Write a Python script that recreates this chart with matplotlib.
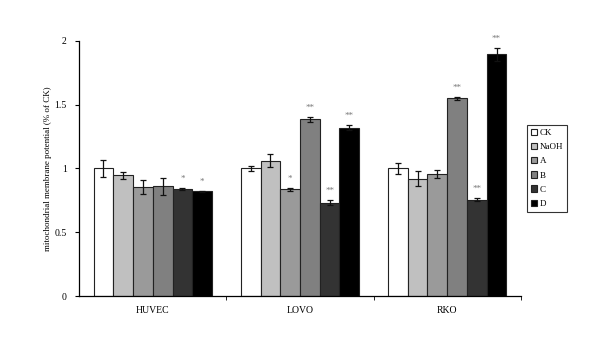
import matplotlib
matplotlib.use("Agg")
import matplotlib.pyplot as plt
import numpy as np

groups = ["HUVEC", "LOVO", "RKO"]
series = ["CK", "NaOH", "A", "B", "C", "D"]
values = {
    "CK":   [1.00, 1.00, 1.00],
    "NaOH": [0.945, 1.06, 0.92],
    "A":    [0.855, 0.835, 0.955],
    "B":    [0.86, 1.385, 1.55],
    "C":    [0.84, 0.73, 0.755],
    "D":    [0.82, 1.32, 1.895],
}
errors = {
    "CK":   [0.065, 0.02, 0.04],
    "NaOH": [0.025, 0.05, 0.06],
    "A":    [0.055, 0.01, 0.03],
    "B":    [0.065, 0.02, 0.01],
    "C":    [0.01, 0.02, 0.01],
    "D":    [0.007, 0.02, 0.05],
}
stars = {
    "CK":   ["", "", ""],
    "NaOH": ["", "", ""],
    "A":    ["", "*", ""],
    "B":    ["", "**", "**"],
    "C":    ["*", "**", "**"],
    "D":    ["*", "**", "**"],
}
colors = ["#ffffff", "#c0c0c0", "#9a9a9a", "#808080", "#333333", "#000000"]
yticks = [0, 0.5, 1, 1.5, 2]
ytick_labels = ["0", "0.5", "1", "1.5", "2"]

plt.rcParams["font.family"] = ["Liberation Serif", "DejaVu Serif"]

fig = plt.figure(figsize=(6, 3.52), dpi=100)
ax = fig.add_axes([0.132, 0.159, 0.736, 0.725])

x = np.arange(len(groups))
w = 0.134
n = len(series)
for i, s in enumerate(series):
    pos = x + (i - (n - 1) / 2) * w
    ax.bar(pos, values[s], width=w, color=colors[i], edgecolor="#222222",
           linewidth=0.8, label=s, zorder=2)
    ax.errorbar(pos, values[s], yerr=errors[s], fmt="none", ecolor="#111111",
                elinewidth=0.9, capsize=2.5, capthick=0.9, zorder=3)
    for p, v, e, st in zip(pos, values[s], errors[s], stars[s]):
        if st:
            ax.text(p, v + e + 0.04, st, ha="center", va="bottom",
                    fontsize=6.5, color="#777777")

ax.set_xlim(-0.5, 2.5)
ax.set_ylim(0, 2)
ax.set_yticks(yticks)
ax.set_yticklabels(ytick_labels, fontsize=7)
ax.set_xticks(x)
ax.set_xticklabels(groups, fontsize=7)
ax.tick_params(axis="x", length=0, pad=7)
ax.set_xticks([0.5, 1.5, 2.5], minor=True)
ax.tick_params(axis="x", which="minor", length=3, direction="out")
ax.tick_params(axis="y", length=3, direction="out", pad=6)
ax.spines["top"].set_visible(False)
ax.spines["right"].set_visible(False)
ax.spines["left"].set_linewidth(0.9)
ax.spines["bottom"].set_linewidth(0.9)
ax.set_ylabel("mitochondrial membrane potential (% of CK)", fontsize=6.5, labelpad=2)

leg = ax.legend(loc="upper left", bbox_to_anchor=(1.015, 0.67), fontsize=6.5,
                frameon=True, fancybox=False, edgecolor="black",
                handlelength=0.7, handleheight=0.7, handletextpad=0.3,
                borderpad=0.4, labelspacing=0.65, borderaxespad=0)
leg.get_frame().set_linewidth(0.8)

fig.savefig("out.png", dpi=100)
